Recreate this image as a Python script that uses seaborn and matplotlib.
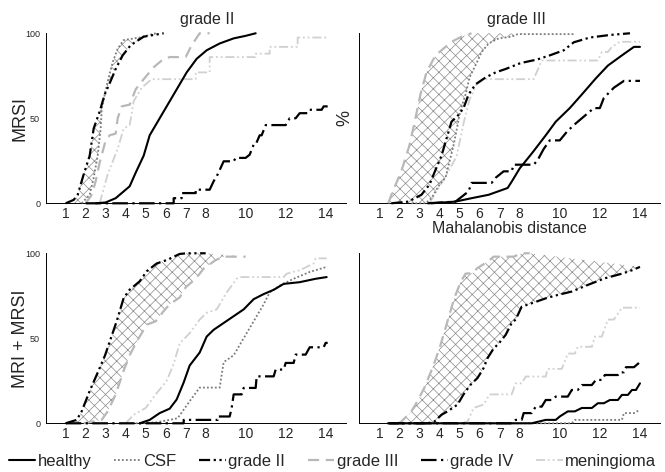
import matplotlib
matplotlib.use("Agg")
import matplotlib.pyplot as plt
import seaborn as sns

sns.set_theme(style="white")
plt.rcParams['font.family'] = ['Liberation Sans', 'DejaVu Sans']
plt.rcParams['hatch.linewidth'] = 0.5

# ---------------- data (Mahalanobis distance, cumulative %) ----------------
CLASSES = ["healthy", "CSF", "grade II", "grade III", "grade IV", "meningioma"]
X_TICKS = [1, 2, 3, 4, 5, 6, 7, 8, 10, 12, 14]
Y_TICKS = [0, 50, 100]
PANEL_TITLES = ["grade II", "grade III"]
ROW_LABELS = ["MRSI", "MRI + MRSI"]

# MRSI, grade II
mrsi_g2_healthy = [(2.5, 0), (3.0, 0.5), (3.5, 3), (3.9, 7), (4.2, 10), (4.5, 18), (4.9, 28), (5.2, 40),
                   (5.55, 47), (6.05, 57), (6.55, 67), (7.05, 77), (7.55, 85), (8.05, 90), (8.7, 94),
                   (9.4, 97), (10.0, 98.5), (10.5, 100)]
mrsi_g2_csf = [(1.8, 0), (2.2, 5), (2.4, 15), (2.6, 28), (2.75, 44), (2.8, 55), (2.95, 64), (3.15, 74),
               (3.35, 83), (3.6, 91), (3.9, 96), (4.7, 97.5), (5.5, 100)]
mrsi_g2_g2 = [(1.0, 0), (1.4, 2), (1.6, 5), (1.9, 17), (2.2, 28), (2.4, 44), (2.7, 54), (2.95, 64),
              (3.25, 72), (3.5, 79), (3.85, 87), (4.25, 93), (4.9, 98), (5.9, 100)]
mrsi_g2_g3 = [(2.0, 0), (2.3, 5), (2.5, 13), (2.7, 24), (3.0, 37), (3.2, 40), (3.5, 41), (3.6, 50),
              (3.8, 57), (4.2, 58), (4.5, 67), (4.9, 73), (5.4, 80), (5.8, 84), (6.2, 86), (7.0, 86),
              (7.3, 93), (7.7, 100), (8.2, 100)]
mrsi_g2_g4 = [(2.0, 0), (6.4, 0), (6.4, 3), (6.8, 3), (6.8, 6), (7.5, 6), (7.5, 8), (8.2, 8), (8.4, 13),
              (8.6, 17), (8.9, 24.7), (9.4, 24.7), (9.5, 26.7), (10.0, 26.7), (10.2, 28.6), (10.4, 34.5),
              (10.5, 34.5), (10.7, 40), (10.8, 40), (11.0, 46), (12.0, 46), (12.2, 50), (12.5, 50),
              (12.7, 53), (13.1, 53), (13.2, 55), (13.8, 55), (13.9, 57), (14.1, 57)]
mrsi_g2_men = [(2.7, 0), (3.1, 17), (3.6, 32), (3.9, 44), (4.2, 46), (4.4, 60), (4.8, 68), (5.3, 73),
               (7.5, 73), (7.5, 77), (8.2, 77), (8.2, 86), (10.5, 86), (10.5, 88), (11.2, 88), (11.2, 92),
               (12.6, 92), (12.6, 97.5), (14.1, 97.5)]

# MRSI, grade III
mrsi_g3_healthy = [(3.6, 0), (4.8, 1), (5.6, 3), (6.45, 5), (7.4, 9), (7.6, 12.7), (8.0, 20.5), (8.65, 30),
                   (9.3, 40), (9.8, 48), (10.5, 56), (11.1, 64), (11.8, 73.5), (12.4, 81), (13.1, 87),
                   (13.7, 92), (14.0, 92)]
mrsi_g3_csf = [(2.6, 0), (3.3, 0), (3.6, 3), (4.0, 11), (4.3, 15), (4.5, 24.5), (4.7, 34), (4.87, 44),
               (5.03, 54), (5.3, 64), (5.5, 74), (5.87, 83), (6.1, 89), (6.45, 94), (6.95, 97), (7.6, 98),
               (7.9, 99.5), (10.7, 99.5)]
mrsi_g3_g2 = [(1.6, 0), (2.45, 1), (3.1, 5), (3.5, 11), (3.85, 21), (4.1, 28), (4.3, 36), (4.6, 48),
              (4.95, 52), (5.2, 56), (5.45, 64), (5.8, 70), (6.3, 74), (6.8, 77), (7.3, 79), (8.05, 82.5),
              (8.85, 84.5), (9.5, 87), (10.2, 90), (10.7, 94.7), (11.5, 97.5), (12.5, 99), (13.5, 100)]
mrsi_g3_g3 = [(1.45, 0), (1.6, 5), (2.1, 19), (2.5, 34), (2.8, 50), (3.05, 64), (3.35, 77), (3.8, 87),
              (4.2, 91), (4.6, 95), (5.1, 98), (5.6, 100)]
mrsi_g3_g4 = [(3.4, 0), (4.8, 1), (5.45, 7), (5.6, 12), (6.6, 12), (6.8, 15), (7.2, 18.8), (7.6, 18.8),
              (7.7, 22.7), (8.7, 22.7), (8.9, 25.5), (9.2, 32), (9.5, 37), (10.0, 37), (10.35, 42),
              (10.7, 46), (11.2, 51), (11.7, 56), (12.0, 56), (12.2, 62), (12.7, 68), (13.2, 72), (14.0, 72)]
mrsi_g3_men = [(3.5, 0), (4.0, 10), (4.5, 20), (4.85, 27.5), (5.2, 47), (5.5, 61), (5.85, 70), (6.2, 73),
               (8.7, 73), (9.1, 84), (11.9, 84), (12.1, 89), (12.4, 89), (12.6, 92), (13.0, 95), (14.0, 95)]

# MRI + MRSI, grade II
mri_g2_healthy = [(4.7, 0), (5.2, 2), (5.7, 6), (6.2, 8.6), (6.55, 14), (6.9, 24), (7.2, 34), (7.7, 41.6),
                  (8.05, 51), (8.4, 55), (8.9, 59), (9.4, 63), (9.9, 67), (10.4, 73), (10.9, 76),
                  (11.4, 78.5), (11.9, 82), (12.7, 83), (13.5, 85), (14.05, 86)]
mri_g2_csf = [(4.5, 0), (5.5, 0.5), (6.2, 2), (6.6, 3), (6.9, 8), (7.2, 13), (7.7, 21), (8.7, 21),
              (8.9, 36), (9.4, 40), (9.9, 50), (10.4, 60), (10.9, 70), (11.2, 77), (11.7, 81), (12.4, 85),
              (13.2, 89), (14.05, 92)]
mri_g2_g2 = [(1.0, 0), (1.55, 2), (1.8, 7), (2.2, 19), (2.63, 30.6), (2.97, 40), (3.2, 48), (3.55, 60),
             (3.9, 73.7), (4.2, 78.6), (4.7, 83.5), (5.05, 89.4), (5.55, 94), (6.05, 96), (6.7, 99.6),
             (7.05, 100), (8.0, 100)]
mri_g2_g3 = [(1.9, 0), (2.8, 2), (3.1, 7), (3.5, 17), (3.9, 31), (4.2, 40), (4.55, 48), (4.9, 55),
             (5.05, 58), (5.5, 60), (5.9, 66), (6.2, 70), (6.7, 74), (7.0, 80), (7.5, 85), (7.9, 91),
             (8.5, 96), (8.9, 98), (10.0, 98)]
mri_g2_g4 = [(1.0, 0), (6.9, 0), (6.9, 2), (8.6, 2), (8.6, 4), (9.2, 4), (9.3, 9), (9.4, 17), (9.8, 17),
             (9.9, 20.8), (10.5, 20.8), (10.55, 27.6), (11.4, 27.6), (11.5, 31.6), (11.9, 31.6),
             (12.0, 35.5), (12.4, 35.5), (12.5, 40.4), (13.0, 40.4), (13.2, 44.7), (13.9, 44.7),
             (14.0, 47.3), (14.1, 47.3)]
mri_g2_men = [(4.0, 0), (4.4, 5), (5.0, 9), (5.5, 17), (6.05, 25), (6.4, 35), (6.7, 47), (7.2, 53),
              (7.7, 61), (8.05, 65), (8.55, 67), (9.05, 77), (9.55, 85), (9.7, 86), (11.9, 86),
              (12.05, 88), (12.7, 90), (13.4, 94), (13.5, 97), (14.05, 97)]

# MRI + MRSI, grade III
mri_g3_healthy = [(1.5, 0), (8.6, 0), (9.3, 2), (9.8, 2), (10.0, 4), (10.4, 7), (10.75, 7), (11.1, 9),
                  (11.6, 9), (11.9, 11.8), (12.2, 11.8), (12.5, 13.7), (12.9, 13.7), (13.1, 16.7),
                  (13.4, 16.7), (13.6, 19.6), (13.8, 19.6), (14.0, 23.5)]
mri_g3_csf = [(1.5, 0), (10.6, 0), (10.75, 2), (13.1, 2), (13.2, 6), (13.7, 6), (14.0, 8)]
mri_g3_g2 = [(1.4, 0), (3.4, 0), (3.75, 1), (4.1, 5), (4.4, 7), (4.9, 11), (5.2, 17), (5.55, 22.7),
             (5.9, 26.7), (6.2, 32.5), (6.4, 38.4), (6.7, 44), (6.96, 47), (7.3, 52), (7.6, 59), (7.8, 61),
             (8.1, 68.6), (8.6, 70.6), (9.3, 73.5), (9.9, 75.5), (10.6, 77.5), (11.4, 81.4),
             (12.25, 85.3), (13.1, 88), (13.6, 90), (14.0, 92)]
mri_g3_g3 = [(1.93, 0), (2.1, 1), (2.6, 7), (2.9, 13), (3.25, 21), (3.65, 32.5), (4.0, 44), (4.25, 54),
             (4.5, 64), (4.75, 74), (5.07, 83.5), (5.3, 88), (5.65, 88.4), (5.9, 91.4), (6.4, 95),
             (6.7, 98), (7.7, 98), (8.1, 100), (8.5, 100)]
mri_g3_g4 = [(1.5, 0), (7.6, 0), (7.8, 2), (8.1, 2), (8.2, 6), (8.6, 6), (8.8, 9.8), (9.1, 9.8),
             (9.3, 13.7), (9.6, 13.7), (9.8, 15.7), (10.4, 15.7), (10.6, 19.6), (10.9, 19.6), (11.1, 22.5),
             (11.6, 22.5), (11.8, 25.5), (12.1, 25.5), (12.25, 28.4), (12.9, 28.4), (13.0, 30), (13.2, 30),
             (13.3, 33), (13.7, 33), (14.0, 36)]
mri_g3_men = [(5.15, 0), (5.4, 1), (5.7, 9), (6.2, 11), (6.5, 17), (7.6, 17), (7.8, 23.5), (8.1, 23.5),
              (8.3, 27.5), (9.3, 27.5), (9.4, 32), (10.1, 32), (10.4, 41), (10.75, 41), (10.9, 45),
              (11.6, 45), (11.75, 51), (12.1, 51), (12.4, 61), (12.7, 61), (13.1, 68), (14.0, 68)]

# ---------------- styles ----------------
STYLE = {
    "healthy":    dict(color="black",   linewidth=1.5, linestyle="-", zorder=5),
    "CSF":        dict(color="#7a7a7a", linewidth=1.3, linestyle=(0, (1, 1.2)), zorder=4),
    "grade II":   dict(color="black",   linewidth=1.6, linestyle=(0, (5, 1.6, 1, 1.6, 1, 1.6)), zorder=6),
    "grade III":  dict(color="#b8b8b8", linewidth=1.6, linestyle=(0, (5, 3)), zorder=3),
    "grade IV":   dict(color="black",   linewidth=1.6, linestyle=(0, (7, 2, 1, 2)), zorder=5),
    "meningioma": dict(color="#d0d0d0", linewidth=1.3, linestyle=(0, (5, 1.6, 1, 1.6, 1, 1.6)), zorder=2),
}

panels = [
    dict(pos=[0.0687, 0.5693, 0.4511, 0.3602],
         curves=[mrsi_g2_healthy, mrsi_g2_csf, mrsi_g2_g2, mrsi_g2_g3, mrsi_g2_g4, mrsi_g2_men],
         hatch=(mrsi_g2_g2, mrsi_g2_csf), title=PANEL_TITLES[0], title_x=0.537,
         ylabel=ROW_LABELS[0], ylab_x=-0.056, yticklabels=True, xlabel=None),
    dict(pos=[0.5403, 0.5693, 0.4522, 0.3602],
         curves=[mrsi_g3_healthy, mrsi_g3_csf, mrsi_g3_g2, mrsi_g3_g3, mrsi_g3_g4, mrsi_g3_men],
         hatch=(mrsi_g3_g3, mrsi_g3_csf), title=PANEL_TITLES[1], title_x=0.523,
         ylabel="%", ylab_x=-0.021, yticklabels=False, xlabel="Mahalanobis distance"),
    dict(pos=[0.0687, 0.1032, 0.4511, 0.3602],
         curves=[mri_g2_healthy, mri_g2_csf, mri_g2_g2, mri_g2_g3, mri_g2_g4, mri_g2_men],
         hatch=(mri_g2_g2, mri_g2_g3), title=None, title_x=0.5,
         ylabel=ROW_LABELS[1], ylab_x=-0.056, yticklabels=True, xlabel=None),
    dict(pos=[0.5403, 0.1032, 0.4522, 0.3602],
         curves=[mri_g3_healthy, mri_g3_csf, mri_g3_g2, mri_g3_g3, mri_g3_g4, mri_g3_men],
         hatch=(mri_g3_g3, mri_g3_g2), title=None, title_x=0.5,
         ylabel=None, ylab_x=-0.021, yticklabels=False, xlabel=None),
]

fig = plt.figure(figsize=(6.65, 4.72), dpi=100)
legend_handles = []

for i, p in enumerate(panels):
    ax = fig.add_axes(p["pos"])
    # hatched region between two curves
    a, b = p["hatch"]
    hx = [q[0] for q in a] + [q[0] for q in b[::-1]]
    hy = [q[1] for q in a] + [q[1] for q in b[::-1]]
    ax.fill(hx, hy, facecolor="none", edgecolor="#8a8a8a", hatch="xxx", linewidth=0, zorder=1)

    for name, pts in zip(CLASSES, p["curves"]):
        xs = [q[0] for q in pts]
        ys = [q[1] for q in pts]
        sns.lineplot(x=xs, y=ys, ax=ax, estimator=None, sort=False, legend=False,
                     clip_on=False, **STYLE[name])
        line = ax.lines[-1]
        line.set_label(name)
        if i == 0:
            legend_handles.append(line)

    ax.set_xlim(0, 15)
    ax.set_ylim(0, 100)
    ax.set_xticks(X_TICKS)
    ax.set_xticklabels([str(t) for t in X_TICKS])
    ax.set_yticks(Y_TICKS)
    if p["yticklabels"]:
        ax.set_yticklabels([str(t) for t in Y_TICKS])
    else:
        ax.set_yticklabels([])
    ax.tick_params(axis="x", direction="in", length=3, width=0.6, labelsize=10, pad=3)
    ax.tick_params(axis="y", direction="in", length=3, width=0.6, labelsize=6.5, pad=4)
    for s in ["top", "right"]:
        ax.spines[s].set_visible(False)
    for s in ["left", "bottom"]:
        ax.spines[s].set_color("black")
        ax.spines[s].set_linewidth(0.7)
    if p["title"]:
        ax.set_title(p["title"], fontsize=11.5, x=p["title_x"], pad=7)
    if p["ylabel"]:
        ax.set_ylabel(p["ylabel"], fontsize=13)
        ax.yaxis.set_label_coords(p["ylab_x"], 0.5)
    else:
        ax.set_ylabel("")
    if p["xlabel"]:
        ax.set_xlabel(p["xlabel"], fontsize=11.5, labelpad=0)
    else:
        ax.set_xlabel("")

fig.legend(legend_handles, CLASSES, loc="center", bbox_to_anchor=(0.5, 0.022), ncol=6,
           frameon=False, fontsize=12, handlelength=1.6, handletextpad=0.15, columnspacing=1.35,
           borderpad=0.1)

fig.savefig("out.png", dpi=100)
